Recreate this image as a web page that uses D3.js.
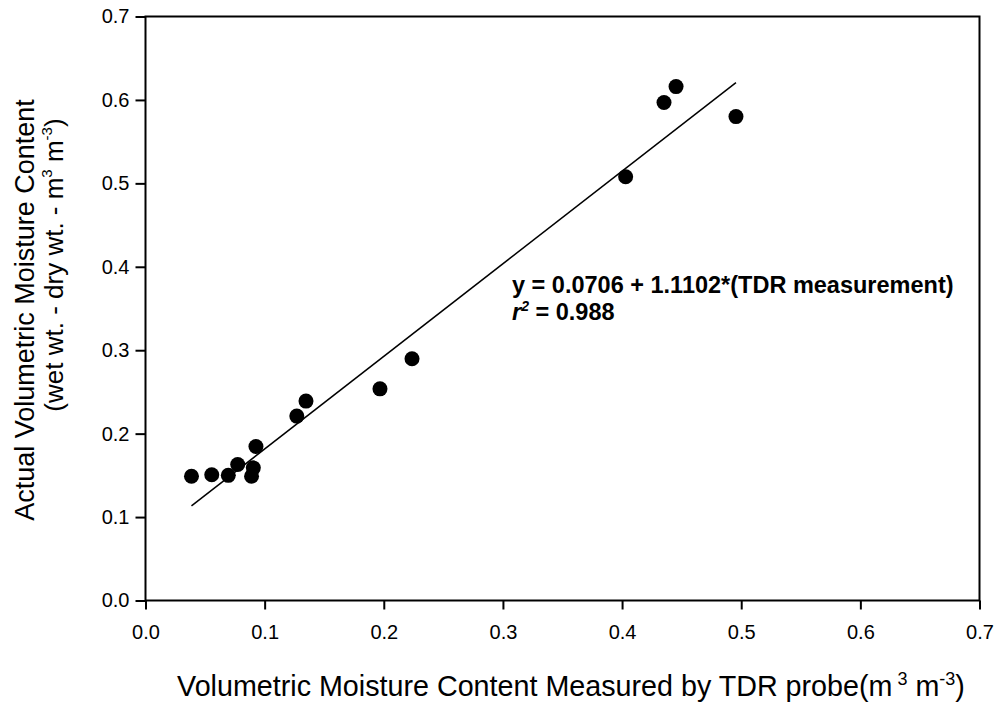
<!DOCTYPE html>
<html>
<head>
<meta charset="utf-8">
<script src="https://cdn.jsdelivr.net/npm/d3@7"></script>
<style>
  body { margin: 0; background: #fff; }
  svg text { font-family: "Liberation Sans", Arial, sans-serif; }
</style>
</head>
<body>
<svg id="chart" width="999" height="704"></svg>
<script>
// TDR probe reading vs actual moisture content
const tdr    = [0.0386, 0.0556, 0.0695, 0.0774, 0.0890, 0.0905, 0.0927, 0.1270, 0.1347, 0.1968, 0.2237, 0.4030, 0.4352, 0.4453, 0.4956]
const actual = [0.149,  0.1507, 0.150,  0.163,  0.149,  0.159,  0.1846, 0.2210, 0.2390, 0.2537, 0.2897, 0.508,  0.597,  0.616,  0.580]
const xTicks = [0, 0.1, 0.2, 0.3, 0.4, 0.5, 0.6, 0.7]
const yTicks = [0, 0.1, 0.2, 0.3, 0.4, 0.5, 0.6, 0.7]
const fit = { a: 0.0706, b: 1.1102, r2: 0.988 }

const svg = d3.select('#chart')
const mLeft = 145.5, mRight = 979.5, mTop = 16.5, mBottom = 600.5

const x = d3.scaleLinear().domain([0, 0.7]).range([mLeft, mRight])
const y = d3.scaleLinear().domain([0, 0.7]).range([mBottom, mTop])

// frame
svg.append('rect')
  .attr('x', mLeft).attr('y', mTop)
  .attr('width', mRight - mLeft).attr('height', mBottom - mTop)
  .attr('fill', 'none').attr('stroke', '#000').attr('stroke-width', 2)

const xAxis = svg.append('g')
  .attr('transform', `translate(0,${mBottom})`)
  .call(d3.axisBottom(x).tickValues(xTicks).tickFormat(d3.format('.1f')).tickSize(9).tickPadding(15))
const yAxis = svg.append('g')
  .attr('transform', `translate(${mLeft},0)`)
  .call(d3.axisLeft(y).tickValues(yTicks).tickFormat(d3.format('.1f')).tickSize(10).tickPadding(6))

;[xAxis, yAxis].forEach(g => {
  g.select('.domain').remove()
  g.selectAll('line').attr('stroke', '#000').attr('stroke-width', 2)
  g.selectAll('text')
    .attr('fill', '#000')
    .style('font-size', '20px')
    .style('font-family', '"Liberation Sans", Arial, sans-serif')
})

// regression line over data range
const xr = d3.extent(tdr)
svg.append('line')
  .attr('x1', x(xr[0])).attr('y1', y(fit.a + fit.b * xr[0]))
  .attr('x2', x(xr[1])).attr('y2', y(fit.a + fit.b * xr[1]))
  .attr('stroke', '#000').attr('stroke-width', 1.5)

// points
svg.append('g')
  .selectAll('circle')
  .data(tdr.map((d, i) => [d, actual[i]]))
  .enter()
  .append('circle')
    .attr('cx', d => x(d[0]))
    .attr('cy', d => y(d[1]))
    .attr('r', 7.5)
    .attr('fill', '#000')

// equation
const eq = svg.append('text')
  .attr('x', 512).attr('y', 293)
  .style('font-size', '23.5px').style('font-weight', 'bold')
eq.text(`y = ${fit.a} + ${fit.b}*(TDR measurement)`)

const r2 = svg.append('text')
  .attr('x', 512).attr('y', 320)
  .style('font-size', '23.5px').style('font-weight', 'bold')
r2.append('tspan').style('font-style', 'italic').text('r')
r2.append('tspan').attr('dy', -9).style('font-size', '14px').style('font-style', 'italic').text('2')
r2.append('tspan').attr('dy', 9).text(` = ${fit.r2}`)

// x title
const xt = svg.append('text')
  .attr('x', 571).attr('y', 696)
  .attr('text-anchor', 'middle')
  .style('font-size', '28.7px')
xt.append('tspan').text('Volumetric Moisture Content Measured by TDR probe(m')
xt.append('tspan').attr('dy', -11).style('font-size', '18px').text(' 3')
xt.append('tspan').attr('dy', 11).text(' m')
xt.append('tspan').attr('dy', -11).style('font-size', '18px').text('-3')
xt.append('tspan').attr('dy', 11).text(')')

// y title, two lines
const yt = svg.append('g').attr('transform', 'rotate(-90)')
yt.append('text')
  .attr('x', -310).attr('y', 34)
  .attr('text-anchor', 'middle')
  .style('font-size', '27px')
  .text('Actual Volumetric Moisture Content')
const yt2 = yt.append('text')
  .attr('x', -265).attr('y', 63)
  .attr('text-anchor', 'middle')
  .style('font-size', '26px')
yt2.append('tspan').text('(wet wt. - dry wt. - m')
yt2.append('tspan').attr('dy', -11).style('font-size', '15px').text('3')
yt2.append('tspan').attr('dy', 11).text(' m')
yt2.append('tspan').attr('dy', -11).style('font-size', '15px').text('-3')
yt2.append('tspan').attr('dy', 11).text(')')
</script>
</body>
</html>
